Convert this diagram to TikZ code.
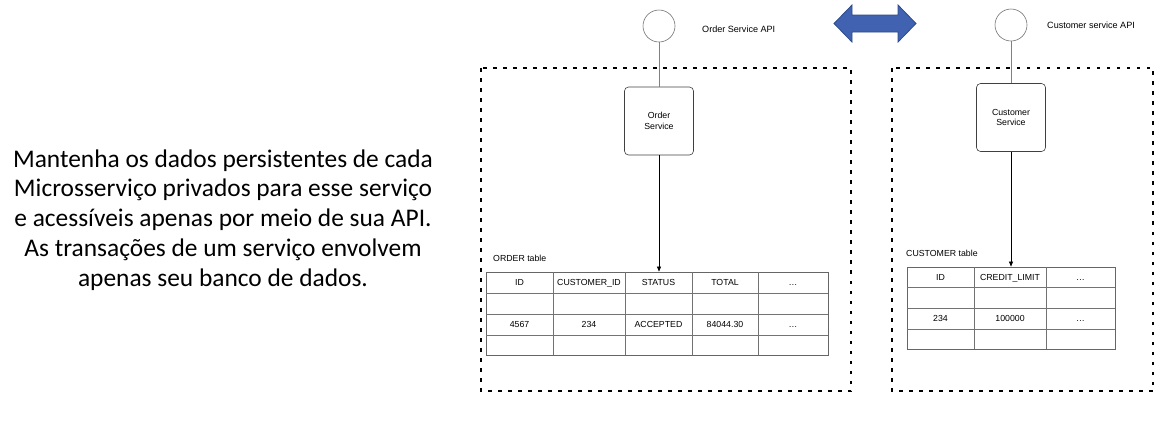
\documentclass[tikz,border=0pt]{standalone}
\usepackage{fontspec}
\setmainfont{Liberation Sans}
\newfontfamily\slidefont{Carlito}
\usepackage{xcolor}
\usetikzlibrary{arrows.meta, positioning}

\definecolor{syncblue}{RGB}{64,98,176}
\definecolor{syncedge}{RGB}{45,76,138}

\begin{document}
\begin{tikzpicture}[
    x=1bp, y=-1bp,
    every node/.style={font=\fontsize{8.8}{10.5}\selectfont},
    api/.style={draw=black!55, circle, minimum size=32bp, inner sep=0pt, line width=0.6bp},
    svc/.style={draw=black!75, rounded corners=4bp, minimum width=69bp, minimum height=68bp, align=center, inner sep=0pt, line width=0.6bp},
    bound/.style={line width=2bp, dash pattern=on 3.5bp off 6.5bp},
    tabframe/.style={draw=black!60, inner sep=0pt, line width=0.8bp},
    grid/.style={draw=black!55, line width=0.6bp},
    cell/.style={inner sep=0pt, anchor=base},
    caption/.style={inner sep=0pt, anchor=base west},
    apicaption/.style={caption, font=\fontsize{9.1}{11}\selectfont},
    link/.style={draw=black!50, line width=0.6bp},
    call/.style={-{Triangle[length=5bp, width=4bp]}, line width=0.6bp},
    sync/.style={draw=syncedge, fill=syncblue, line width=0.8bp, line join=miter},
    slide/.style={align=center, font=\slidefont\fontsize{25.5}{30}\selectfont},
]
\useasboundingbox (0,0) rectangle (1168,428);

% Statement on the left
\node[slide] (claim) at (223,220) {Mantenha os dados persistentes de cada\\
  Microsserviço privados para esse serviço\\
  e acessíveis apenas por meio de sua API.\\
  As transações de um serviço envolvem\\
  apenas seu banco de dados.};

% Service boundaries (dotted)
\draw[bound] (481,68) rectangle (851,391);
\draw[bound] (892,68) rectangle (1153,391);

% APIs and the exchange between them
\node[api] (ordapi) at (659,26) {};
\node[api] (custapi) at (1011,25) {};
\node[apicaption] (ordapilbl) at (702,32) {Order Service API};
\node[apicaption] (custapilbl) at (1047,28) {Customer service API};
\draw[sync] (834,23.5) -- (852,5) -- (852,15) -- (898,15) -- (898,5) -- (916,23.5)
  -- (898,42) -- (898,32) -- (852,32) -- (852,42) -- cycle;

% Services
\node[svc] (ordsvc) at (659,121) {Order\\Service};
\node[svc] (custsvc) at (1011,117.5) {Customer\\Service};
\draw[link] (ordapi) -- (ordsvc);
\draw[link] (custapi) -- (custsvc);

% ORDER table
\node[caption] (ordlbl) at (493,261) {ORDER table};
\node[tabframe, minimum width=342bp, minimum height=83bp] (ordtab) at (657,313.5) {};
\foreach \gx in {553,625,692,758}
  \draw[grid] (\gx,272) -- (\gx,355);
\foreach \gy in {293,314,335}
  \draw[grid] (486,\gy) -- (828,\gy);
\foreach \cx/\hd/\val [count=\i] in {519.5/ID/4567, 589/CUSTOMER\_ID/234, 658.5/STATUS/ACCEPTED, 725/TOTAL/84044.30, 793/{\ldots}/{\ldots}} {
  \node[cell] (ordh\i) at (\cx,285.8) {\hd};
  \node[cell] (ordv\i) at (\cx,327.8) {\val};
}
\draw[call] (ordsvc.south) -- (ordsvc.south |- ordtab.north);

% CUSTOMER table
\node[caption] (custlbl) at (906,256) {CUSTOMER table};
\node[tabframe, minimum width=208bp, minimum height=82bp] (custtab) at (1011,308) {};
\foreach \gx in {974,1046}
  \draw[grid] (\gx,267) -- (\gx,349);
\foreach \gy in {287,308,329}
  \draw[grid] (907,\gy) -- (1115,\gy);
\foreach \cx/\hd/\val [count=\i] in {940.5/ID/234, 1010/CREDIT\_LIMIT/100000, 1080.5/{\ldots}/{\ldots}} {
  \node[cell] (custh\i) at (\cx,280.3) {\hd};
  \node[cell] (custv\i) at (\cx,321.8) {\val};
}
\draw[call] (custsvc.south) -- (custsvc.south |- custtab.north);
\end{tikzpicture}
\end{document}
